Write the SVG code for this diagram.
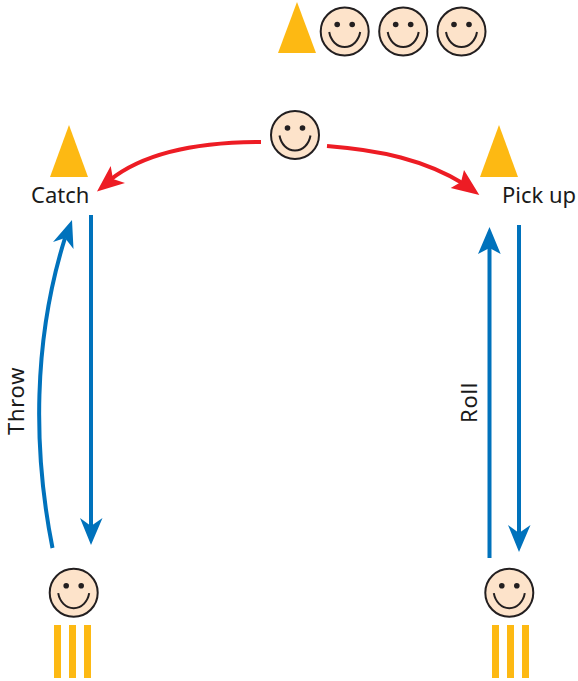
<svg xmlns="http://www.w3.org/2000/svg" width="578" height="681" viewBox="0 0 578 681">
<style>
.t{font-family:"Noto Sans","Open Sans",sans-serif;font-size:22px;fill:#1a1a1a}
.v{letter-spacing:.7px}
.tri{fill:#fdb913}
.w{fill:#fdb913}
.b{fill:none;stroke:#0072bc;stroke-width:4}
.r{fill:none;stroke:#ed1c24;stroke-width:4}
.bh{fill:#0072bc}
.rh{fill:#ed1c24}
</style>
<defs>
<g id="face">
<circle r="24" fill="#fde3ca" stroke="#231f20" stroke-width="2"/>
<circle cx="-7.500" cy="-7" r="2.800" fill="#231f20"/>
<circle cx="7.500" cy="-7" r="2.800" fill="#231f20"/>
<path d="M-15.500 0.500C-14 9-8 15.500 0 15.500C8 15.500 14 9 15.500 0.500" fill="none" stroke="#231f20" stroke-width="2"/>
</g>
<g id="wickets">
<rect x="0" y="0" width="7" height="53" class="w"/>
<rect x="15" y="0" width="7" height="53" class="w"/>
<rect x="30" y="0" width="7" height="53" class="w"/>
</g>
</defs>
<g id="connectors">
<path class="r" d="M261 142C200 142 145 152 110 180"/>
<polygon class="rh" points="97,191.500 110.700,166 113,179 125,183"/>
<path class="r" d="M327 146C380 150 425 160 464 184"/>
<polygon class="rh" points="479.300,195 464,170 461,182 450.700,188"/>
<path class="b" d="M91 215V528"/>
<polygon class="bh" points="91,545 80,518 91,526 102.500,518"/>
<path class="b" d="M519 225V535"/>
<polygon class="bh" points="519,552 508,525 519,533 530.500,525"/>
<path class="b" d="M489.500 558V245"/>
<polygon class="bh" points="489.500,227 478,254 489.500,248 500.700,254"/>
<path class="b" d="M52.500 548C33 450 33 340 65 238"/>
<polygon class="bh" points="72,220 53,242 65,238 73.500,249"/>
</g>
<g id="cone-top"><polygon class="tri" points="297,2 316,53 278,53"/></g>
<g id="face-top-1"><use href="#face" x="344.700" y="31.500"/></g>
<g id="face-top-2"><use href="#face" x="403.200" y="31.500"/></g>
<g id="face-top-3"><use href="#face" x="461.500" y="31.500"/></g>
<g id="face-centre"><use href="#face" x="295" y="135"/></g>
<g id="catch"><polygon class="tri" points="69,125 88,177 50,177"/><text class="t" x="31" y="202.500">Catch</text></g>
<g id="pickup"><polygon class="tri" points="499,125 518,177 480,177"/><text class="t" x="502" y="202.500">Pick up</text></g>
<g id="thrower"><use href="#face" x="73.700" y="592.700"/><use href="#wickets" x="54" y="625"/></g>
<g id="roller"><use href="#face" x="509.300" y="592.700"/><use href="#wickets" x="492" y="625"/></g>
<text class="t v" transform="translate(23.600 435) rotate(-90)">Throw</text>
<text class="t v" transform="translate(477 423) rotate(-90)">Roll</text>
</svg>
